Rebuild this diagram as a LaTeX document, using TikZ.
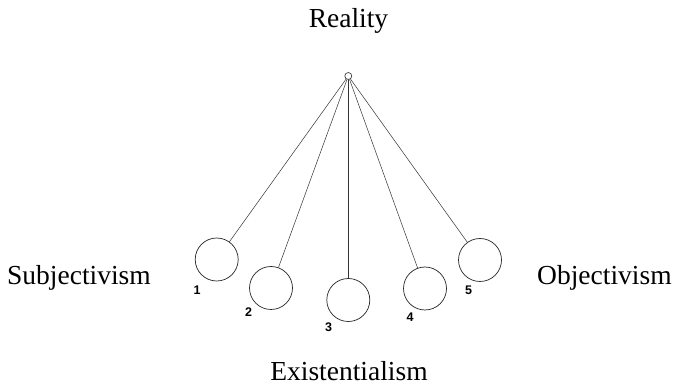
\documentclass[tikz,border=0pt]{standalone}
\usepackage{fontspec}
\setmainfont{Liberation Serif}
\newfontfamily\numfont{Liberation Sans}
\begin{document}
\begin{tikzpicture}[x=1pt,y=-1pt,
  bob/.style={circle,draw=black!85,line width=0.7pt,minimum size=43pt,inner sep=0pt},
  pivotc/.style={circle,draw=black!85,line width=0.6pt,minimum size=7pt,inner sep=0pt},
  cord/.style={draw=black!80,line width=0.5pt},
  lab/.style={font=\fontsize{27.5}{30}\selectfont,inner sep=0pt},
  num/.style={font=\numfont\bfseries\fontsize{12.5}{13}\selectfont,inner sep=0pt}]
\useasboundingbox (0,0) rectangle (678,387);
\fill[white] (0,0) rectangle (678,387);
\node[pivotc] (p) at (348.3,76) {};
\node[bob] (b1) at (216.7,259.5) {};
\node[bob] (b2) at (271,288) {};
\node[bob] (b3) at (348.3,300) {};
\node[bob] (b4) at (425,288.5) {};
\node[bob] (b5) at (480,260) {};
\foreach \i in {1,...,5} {\draw[cord] (p) -- (b\i);}
\node[num] (n1) at (197,290) {1};
\node[num] (n2) at (248.5,312) {2};
\node[num] (n3) at (328.5,327) {3};
\node[num] (n4) at (410,317) {4};
\node[num] (n5) at (468.5,290) {5};
\node[lab,anchor=base] (real) at (348.5,27.7) {Reality};
\node[lab,anchor=base west] (subj) at (7,285) {Subjectivism};
\node[lab,anchor=base west] (obj) at (537,285) {Objectivism};
\node[lab,anchor=base] (exis) at (349,381) {Existentialism};
\end{tikzpicture}
\end{document}
